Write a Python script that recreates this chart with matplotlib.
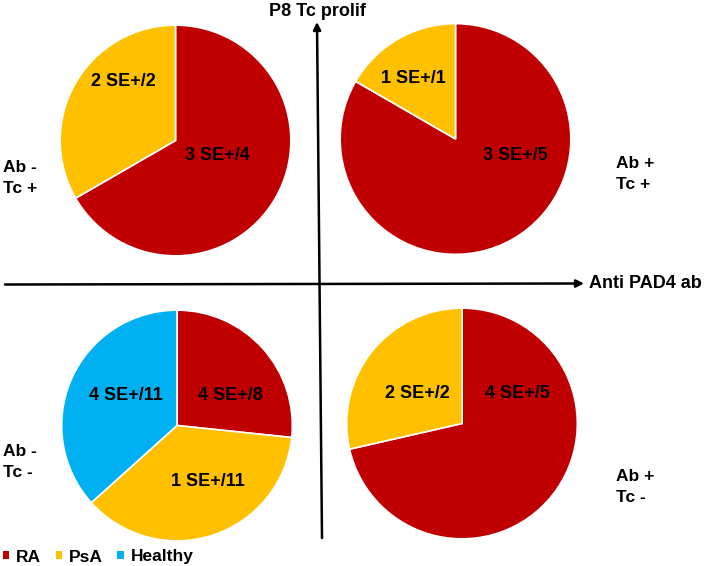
import matplotlib
matplotlib.use("Agg")
import matplotlib.pyplot as plt
from matplotlib.patches import Patch

plt.rcParams['font.family'] = ['Liberation Sans', 'DejaVu Sans']

# ---- data ----
categories = ['RA', 'PsA', 'Healthy']
colors = ['#C00000', '#FFC000', '#00B0F0']

# counts per category (RA, PsA, Healthy) in each quadrant
tl_counts = [4, 2, 0]   # Ab - / Tc +
tr_counts = [5, 1, 0]   # Ab + / Tc +
bl_counts = [8, 11, 11] # Ab - / Tc -
br_counts = [5, 2, 0]   # Ab + / Tc -

# SE+ counts per category
tl_se = [3, 2, 0]
tr_se = [3, 1, 0]
bl_se = [4, 1, 4]
br_se = [4, 2, 0]

quad_labels = ['Ab -\nTc +', 'Ab +\nTc +', 'Ab -\nTc -', 'Ab +\nTc -']
x_axis_title = 'Anti PAD4 ab'
y_axis_title = 'P8 Tc prolif'

W, H = 709, 566
fig = plt.figure(figsize=(W / 100, H / 100), dpi=100)

# pie layout in pixels: (center x, center y, radius), label positions
pies = [
    (tl_counts, tl_se, (175.5, 140.5, 116.5), [(217, 156), (123.5, 81.5), None]),
    (tr_counts, tr_se, (455.5, 139.0, 116.5), [(515.5, 155), (413.5, 78.5), None]),
    (bl_counts, bl_se, (177.0, 425.5, 116.5), [(230.5, 395), (207.5, 481.5), (126, 395)]),
    (br_counts, br_se, (462.0, 423.5, 116.5), [(517, 393.5), (417, 393.5), None]),
]

for counts, se, (cx, cy, r), _ in pies:
    ax = fig.add_axes([(cx - r) / W, (H - cy - r) / H, 2 * r / W, 2 * r / H])
    vals = [v for v in counts if v > 0]
    cols = [c for v, c in zip(counts, colors) if v > 0]
    ax.pie(vals, colors=cols, startangle=90, counterclock=False, radius=1,
           wedgeprops=dict(edgecolor='white', linewidth=1.2))
    ax.set_xlim(-1.01, 1.01)
    ax.set_ylim(-1.01, 1.01)
    ax.set_aspect('auto')
    ax.axis('off')

ov = fig.add_axes([0, 0, 1, 1])
ov.set_xlim(0, W)
ov.set_ylim(H, 0)
ov.axis('off')
ov.patch.set_alpha(0)

# axes arrows
arrow = dict(arrowstyle='-|>', lw=1.8, color='black', mutation_scale=11,
             shrinkA=0, shrinkB=0)
ov.annotate('', xy=(584, 283.5), xytext=(5, 284.5), arrowprops=arrow)
ov.annotate('', xy=(317, 22), xytext=(322, 538), arrowprops=arrow)

ov.text(317, 12, y_axis_title, ha='center', va='center', fontsize=13,
        fontweight='bold')
ov.text(589, 284, x_axis_title, ha='left', va='center', fontsize=13,
        fontweight='bold')

# pie labels
for counts, se, _, pos in pies:
    for n, s, p in zip(counts, se, pos):
        if n > 0 and p is not None:
            ov.text(p[0], p[1], f'{s} SE+/{n}', ha='center', va='center',
                    fontsize=13, fontweight='bold', color='black')

# quadrant labels
quad_pos = [(3, 178, 'left'), (616, 174, 'left'), (3, 462, 'left'), (616, 487, 'left')]
for lab, (x, y, ha) in zip(quad_labels, quad_pos):
    ov.text(x, y, lab, ha=ha, va='center', fontsize=12.5, fontweight='bold',
            linespacing=1.45)

# legend
handles = [Patch(facecolor=c, edgecolor='none') for c in colors]
leg = fig.legend(handles, categories, loc='center left', ncol=3, frameon=False,
                 bbox_to_anchor=(3 / W, (H - 557) / H),
                 bbox_transform=fig.transFigure,
                 handlelength=0.35, handleheight=0.35, handletextpad=0.4,
                 columnspacing=0.85, borderaxespad=0, borderpad=0,
                 prop=dict(size=12.5, weight='bold'))

fig.savefig('out.png', dpi=100)
